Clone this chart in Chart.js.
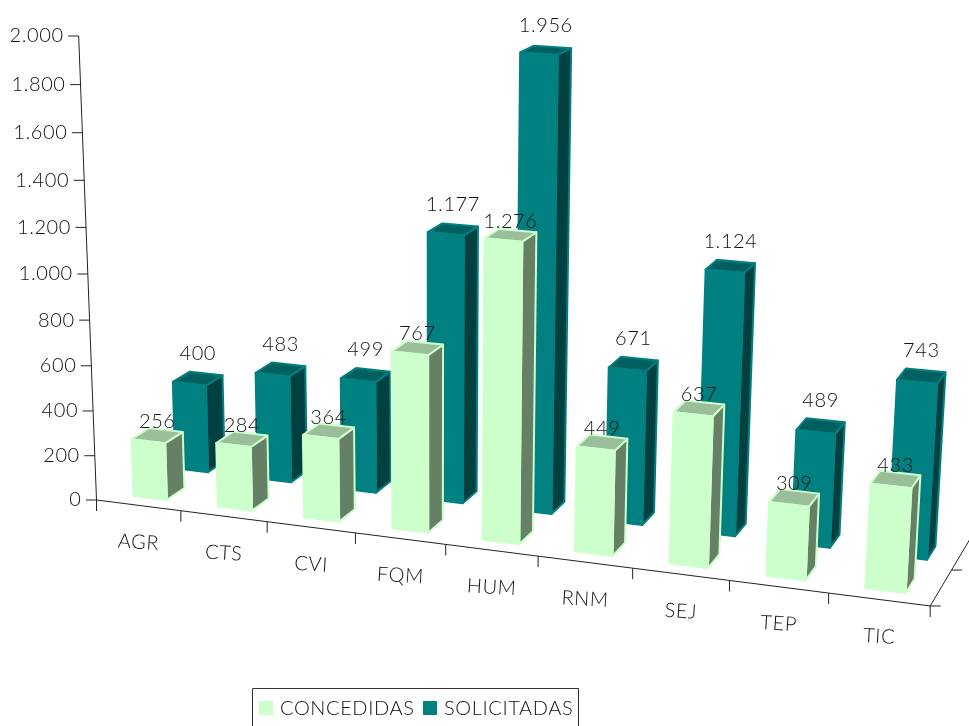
<!DOCTYPE html>
<html>
<head>
<meta charset="utf-8">
<title>Ayudas</title>
<script src="https://cdn.jsdelivr.net/npm/chart.js@4/dist/chart.umd.min.js"></script>
<style>
    html, body { margin: 0; padding: 0; background: #fff; overflow: hidden; }
    canvas { display: block; }
</style>
</head>
<body>
<canvas id="grafico" width="969" height="726"></canvas>
<script>
// data
const categories = ['AGR', 'CTS', 'CVI', 'FQM', 'HUM', 'RNM', 'SEJ', 'TEP', 'TIC'];
const concedidas = [256, 284, 364, 767, 1276, 449, 637, 309, 433];
const solicitadas = [400, 483, 499, 1177, 1956, 671, 1124, 489, 743];
const yTicks = [0, 200, 400, 600, 800, 1000, 1200, 1400, 1600, 1800, 2000];
const yTickLabels = ['0', '200', '400', '600', '800', '1.000', '1.200', '1.400', '1.600', '1.800', '2.000'];

const FONT = '300 20px Lato, "Open Sans", sans-serif';
const SPACING = '0.6px';
const INK = '#111';

// perspective of the box: u = categories along the front, v = value 0..1, d = depth 0..1
function project(u, v, d) {
    const w = 1 - 0.011 * u - 0.0504 * v + 0.0636 * d;
    return {
        x: (96.5 + 82.4 * u - 21.8 * v + 99 * d) / w,
        y: (500 + 5.11 * u - 465.8 * v - 28.5 * d) / w
    };
}

// where each row of bars stands in depth, and the colours of its faces
const rows = [
    { front: 0.125, depth: 0.2, shift: 0.005, side: '#668066', top: '#9ABE9A', gap: 14 },
    { front: 0.6, depth: 0.2, shift: 0.01, side: '#004040', top: '#006060', gap: 25 }
];

function face(ctx, points, fill, edge) {
    ctx.beginPath();
    points.forEach((p, i) => i ? ctx.lineTo(p.x, p.y) : ctx.moveTo(p.x, p.y));
    ctx.closePath();
    ctx.fillStyle = fill;
    ctx.fill();
    ctx.strokeStyle = edge;
    ctx.lineWidth = 2;
    ctx.lineJoin = 'round';
    ctx.stroke();
}

function line(ctx, a, b) {
    ctx.beginPath();
    ctx.moveTo(a.x, a.y);
    ctx.lineTo(b.x, b.y);
    ctx.stroke();
}

// axes, ticks and tick labels
function drawAxes(chart) {
    const ctx = chart.ctx;
    const yScale = chart.scales.y;
    const area = chart.chartArea;
    ctx.save();
    ctx.strokeStyle = '#222';
    ctx.lineWidth = 1;
    ctx.fillStyle = INK;
    ctx.font = FONT;
    ctx.letterSpacing = SPACING;
    ctx.textBaseline = 'middle';

    line(ctx, project(0, 0, 0), project(0, 1, 0));
    line(ctx, project(0, 0, 0), project(9, 0, 0));
    line(ctx, project(9, 0, 0), project(9, 0, 1));

    ctx.textAlign = 'right';
    yTicks.forEach((value, i) => {
        const v = (area.bottom - yScale.getPixelForValue(value)) / area.height;
        const p = project(0, v, 0);
        line(ctx, { x: p.x - 10.5, y: p.y }, p);
        ctx.fillText(yTickLabels[i], p.x - 15, p.y);
    });

    for (let i = 0; i <= categories.length; i++) {
        const p = project(i, 0, 0);
        line(ctx, p, { x: p.x, y: p.y + 11 });
    }
    [0, 0.5, 1].forEach(d => {
        const p = project(9, 0, d);
        line(ctx, p, { x: p.x + 10.5, y: p.y });
    });

    ctx.textAlign = 'center';
    categories.forEach((name, i) => {
        const p = project(i + 0.5, 0, 0);
        ctx.save();
        ctx.translate(p.x, p.y + 37);
        ctx.rotate(0.06);
        ctx.fillText(name, 0, 0);
        ctx.restore();
    });
    ctx.restore();
}

// one bar as three faces, taken from the element the bar controller laid out
function drawBar(chart, bar, row, color) {
    const area = chart.chartArea;
    const ctx = chart.ctx;
    const n = categories.length;
    const u0 = (bar.x - bar.width / 2 - area.left) / area.width * n + row.shift;
    const u1 = (bar.x + bar.width / 2 - area.left) / area.width * n + row.shift;
    const v = (area.bottom - bar.y) / area.height;
    const d0 = row.front;
    const d1 = row.front + row.depth;
    face(ctx, [project(u1, 0, d0), project(u1, 0, d1), project(u1, v, d1), project(u1, v, d0)], row.side, color);
    face(ctx, [project(u0, v, d0), project(u1, v, d0), project(u1, v, d1), project(u0, v, d1)], row.top, color);
    face(ctx, [project(u0, 0, d0), project(u1, 0, d0), project(u1, v, d0), project(u0, v, d0)], color, color);
}

function drawValues(chart) {
    const area = chart.chartArea;
    const ctx = chart.ctx;
    ctx.save();
    ctx.fillStyle = INK;
    ctx.font = FONT;
    ctx.letterSpacing = SPACING;
    ctx.textAlign = 'center';
    ctx.textBaseline = 'middle';
    chart.data.datasets.forEach((ds, n) => {
        const row = rows[n];
        chart.getDatasetMeta(n).data.forEach((bar, i) => {
            const u = (bar.x - area.left) / area.width * categories.length + row.shift;
            const v = (area.bottom - bar.y) / area.height;
            const p = project(u, v, row.front + row.depth / 2);
            ctx.fillText(ds.labelValues[i], p.x, p.y - row.gap);
        });
    });
    ctx.restore();
}

function drawLegend(chart) {
    const ctx = chart.ctx;
    ctx.save();
    ctx.strokeStyle = '#333';
    ctx.lineWidth = 1;
    ctx.strokeRect(252.5, 688.5, 326, 60);
    ctx.font = FONT;
    ctx.letterSpacing = SPACING;
    ctx.textAlign = 'left';
    ctx.textBaseline = 'middle';
    const marks = [259, 423];
    chart.data.datasets.forEach((ds, n) => {
        ctx.fillStyle = ds.backgroundColor;
        ctx.fillRect(marks[n], 701, 14, 14);
        ctx.fillStyle = INK;
        ctx.fillText(ds.label, marks[n] + 21, 709);
    });
    ctx.restore();
}

const formatValue = v => String(v).replace(/\B(?=(\d{3})+$)/g, '.');

const box3d = {
    id: 'box3d',
    beforeDatasetsDraw(chart) {
        drawAxes(chart);
        // back row first so the front row covers it
        [1, 0].forEach(n => {
            const color = chart.data.datasets[n].backgroundColor;
            chart.getDatasetMeta(n).data.forEach(bar => drawBar(chart, bar, rows[n], color));
        });
        drawValues(chart);
        drawLegend(chart);
        return false;
    }
};

new Chart(document.getElementById('grafico'), {
    type: 'bar',
    data: {
        labels: categories,
        datasets: [
            { label: 'CONCEDIDAS', data: concedidas, labelValues: concedidas.map(formatValue), backgroundColor: '#CCFFCC' },
            { label: 'SOLICITADAS', data: solicitadas, labelValues: solicitadas.map(formatValue), backgroundColor: '#008080' }
        ]
    },
    options: {
        responsive: false,
        animation: false,
        grouped: false,
        categoryPercentage: 1,
        barPercentage: 0.4,
        layout: { padding: 0 },
        plugins: { legend: { display: false }, tooltip: { enabled: false } },
        scales: {
            x: { display: false },
            y: {
                display: false,
                min: 0,
                max: 2000,
                afterBuildTicks: s => { s.ticks = yTicks.map(value => ({ value })); }
            }
        }
    },
    plugins: [box3d]
});
</script>
</body>
</html>
